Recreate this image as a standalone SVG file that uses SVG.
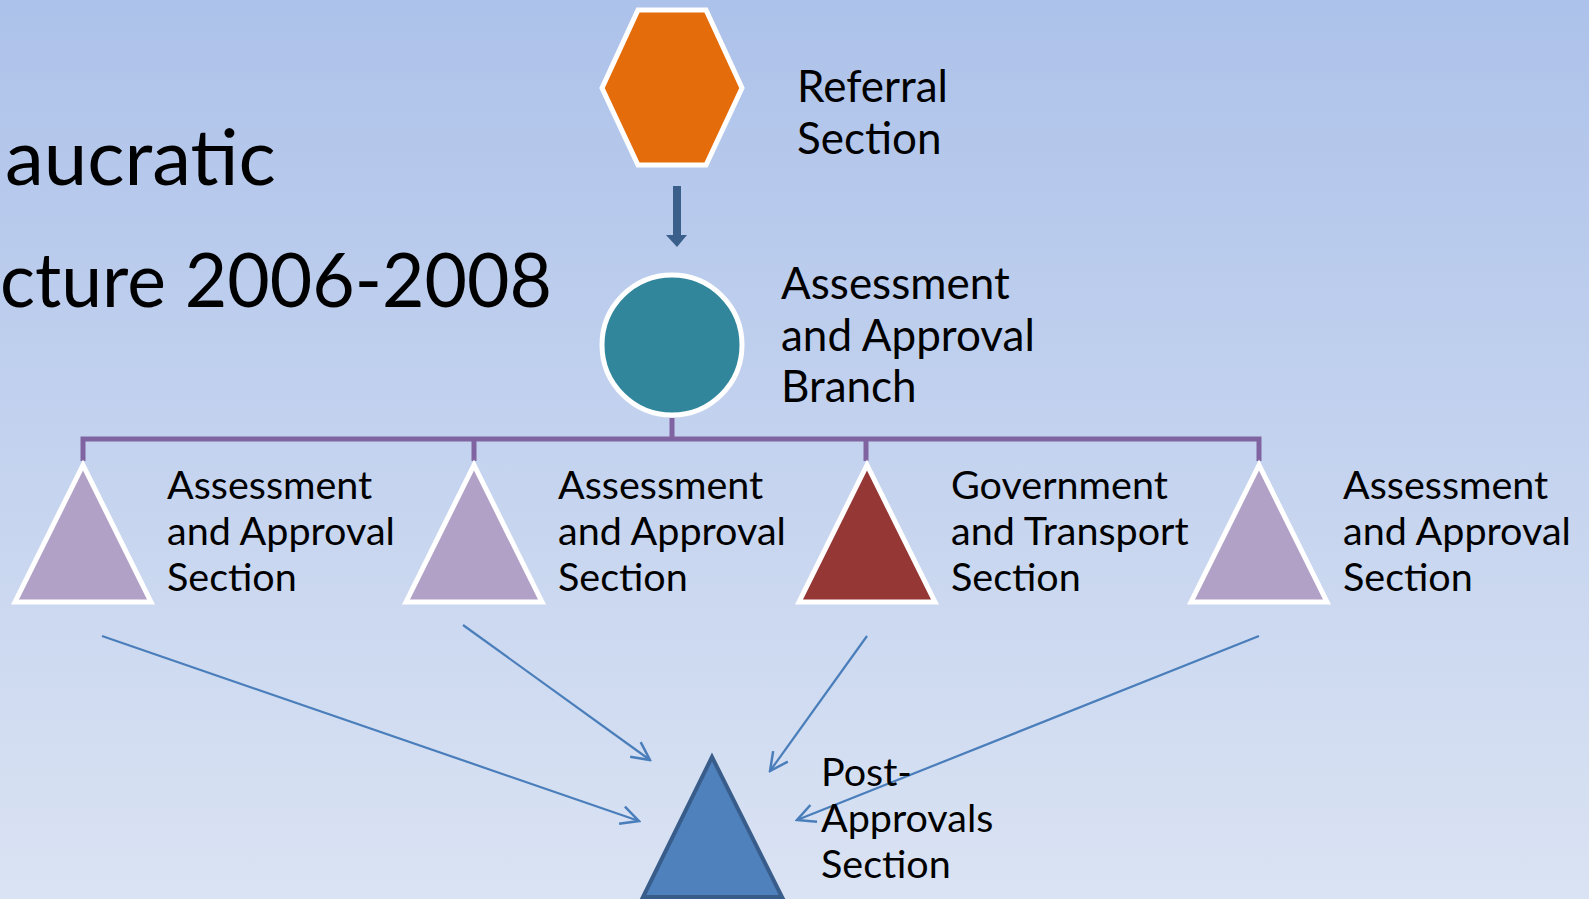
<svg xmlns="http://www.w3.org/2000/svg" width="1589" height="899" viewBox="0 0 1589 899">
<defs>
<linearGradient id="bg" x1="0" y1="0" x2="0" y2="1">
<stop offset="0" stop-color="#ADC2EA"/>
<stop offset="1" stop-color="#DAE3F3"/>
</linearGradient>
<marker id="open" markerUnits="userSpaceOnUse" viewBox="0 0 22 22" markerWidth="22" markerHeight="22" refX="20" refY="11" orient="auto">
<path d="M2,2 L20,11 L2,20" fill="none" stroke="#4A7EBB" stroke-width="2.5"/>
</marker>
</defs>
<style>
.lbl{font-family:Lato,"Open Sans","Liberation Sans",sans-serif;fill:#000}
.big{font-size:44px}
.mid{font-size:39.5px}
.title{font-family:Lato,"Open Sans","Liberation Sans",sans-serif;font-size:78px;fill:#000}
.tri{stroke:#FFFFFF;stroke-width:5;stroke-linejoin:miter}
.purple{fill:#B2A1C7}
.bus{fill:none;stroke:#8064A2;stroke-width:5}
.flow{fill:none;stroke:#4A7EBB;stroke-width:2.2;marker-end:url(#open)}
</style>
<rect x="0" y="0" width="1589" height="899" fill="url(#bg)"/>

<g id="title">
<text class="title" x="5" y="185">aucratic</text>
<text class="title" x="0" y="307" style="font-size:76px" textLength="552" lengthAdjust="spacingAndGlyphs">cture 2006-2008</text>
</g>

<g id="connectors">
<path class="bus" d="M672,418 V439 M83,461 V439 H1259 V461 M474,439 V461 M866,439 V461"/>
<path d="M673,186 H681 V235 H687 L677,247 L666,235 H673 Z" fill="#3A5F8B"/>
<line class="flow" x1="102" y1="636" x2="639" y2="821"/>
<line class="flow" x1="463" y1="625" x2="650" y2="760"/>
<line class="flow" x1="867" y1="636" x2="770" y2="771"/>
<line class="flow" x1="1259" y1="636" x2="797" y2="820"/>
</g>

<g id="referral">
<polygon points="602,88 638,10 706,10 742,88 706,165 638,165" fill="#E46C0A" stroke="#FFFFFF" stroke-width="5"/>
<text class="lbl big"><tspan x="797" y="102">Referral</tspan><tspan x="797" y="154">Section</tspan></text>
</g>

<g id="branch">
<circle cx="672" cy="345" r="70" fill="#31869C" stroke="#FFFFFF" stroke-width="5"/>
<text class="lbl big"><tspan x="781" y="299">Assessment</tspan><tspan x="781" y="351">and Approval</tspan><tspan x="781" y="402">Branch</tspan></text>
</g>

<g id="section1">
<polygon class="tri purple" points="83,465 15,602 151,602"/>
<text class="lbl mid"><tspan x="167" y="499">Assessment</tspan><tspan x="167" y="545">and Approval</tspan><tspan x="167" y="591">Section</tspan></text>
</g>

<g id="section2">
<polygon class="tri purple" points="474,465 406,602 542,602"/>
<text class="lbl mid"><tspan x="558" y="499">Assessment</tspan><tspan x="558" y="545">and Approval</tspan><tspan x="558" y="591">Section</tspan></text>
</g>

<g id="section3">
<polygon class="tri" fill="#953735" points="867,465 799,602 935,602"/>
<text class="lbl mid"><tspan x="951" y="499">Government</tspan><tspan x="951" y="545">and Transport</tspan><tspan x="951" y="591">Section</tspan></text>
</g>

<g id="section4">
<polygon class="tri purple" points="1259,465 1191,602 1327,602" stroke="#E6E6E6"/>
<text class="lbl mid"><tspan x="1343" y="499">Assessment</tspan><tspan x="1343" y="545">and Approval</tspan><tspan x="1343" y="591">Section</tspan></text>
</g>

<g id="post-approvals">
<polygon points="712,757 643,897 782,897" fill="#4F81BD" stroke="#385D8A" stroke-width="4"/>
<text class="lbl mid"><tspan x="821" y="786">Post-</tspan><tspan x="821" y="832">Approvals</tspan><tspan x="821" y="878">Section</tspan></text>
</g>
</svg>
